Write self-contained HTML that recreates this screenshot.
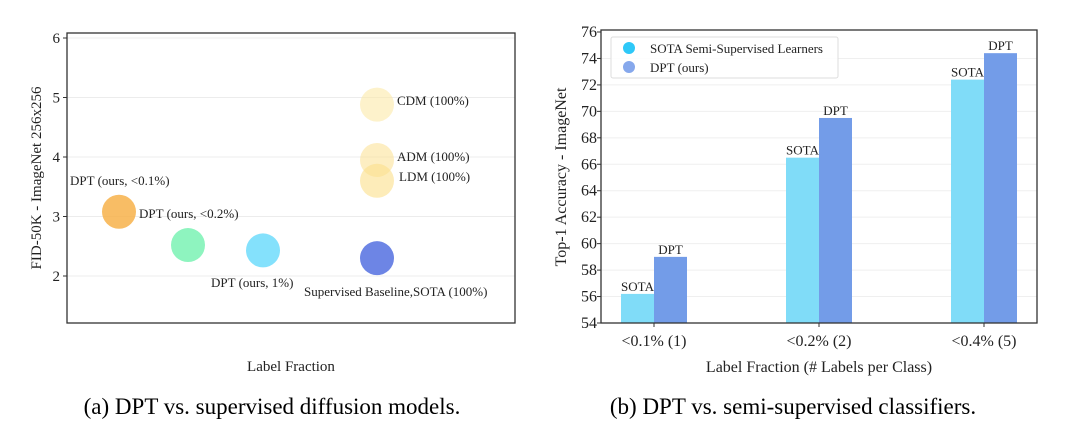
<!DOCTYPE html>
<html><head><meta charset="utf-8"><style>
html,body{margin:0;padding:0;background:#fff;}
svg{display:block;font-family:"Liberation Serif",serif;}
</style></head><body>
<svg id="fig" width="1080" height="435" viewBox="0 0 1080 435" xmlns="http://www.w3.org/2000/svg">
<g id="left"></g>
<g id="right"></g>
<text x="272" y="414" font-size="23" text-anchor="middle">(a) DPT vs. supervised diffusion models.</text>
<text x="793" y="414" font-size="23" text-anchor="middle">(b) DPT vs. semi-supervised classifiers.</text>
</svg>
<script>
// ---- Left chart data ----
const scatterNames = ["DPT (ours, <0.1%)","DPT (ours, <0.2%)","DPT (ours, 1%)","Supervised Baseline,SOTA (100%)","CDM (100%)","ADM (100%)","LDM (100%)"];
const scatterX = [1, 1.92, 2.92, 4.44, 4.44, 4.44, 4.44];
const scatterY = [3.08, 2.52, 2.43, 2.30, 4.88, 3.95, 3.60];
const scatterColors = ["#f7b24a","#7af2b4","#6fdcfb","#5470e0","#fbe9a8","#fbe39a","#fbe08a"];
const scatterTicks = [2,3,4,5,6];
// ---- Right chart data ----
const barCategories = ["<0.1% (1)","<0.2% (2)","<0.4% (5)"];
const sotaValues = [56.2, 66.5, 72.4];
const dptValues = [59.0, 69.5, 74.4];
const barTicks = [54,56,58,60,62,64,66,68,70,72,74,76];

const NS="http://www.w3.org/2000/svg";
function mk(parent,tag,attrs,text){const e=document.createElementNS(NS,tag);for(const k in attrs)e.setAttribute(k,attrs[k]);if(text!==undefined)e.textContent=text;parent.appendChild(e);return e;}

// Left
(function(){
const g=document.getElementById('left');
const L=67,R=515,T=33,B=323;
const ys=v=>276-(v-2)*59.5;
const xs=v=>119+(v-1)*75;
scatterTicks.forEach(t=>{
  const gl=mk(g,'line',{x1:L,x2:R,y1:ys(t),y2:ys(t),stroke:'#ececec','stroke-width':1});
  
  
  mk(g,'line',{x1:L-4,x2:L,y1:ys(t),y2:ys(t),stroke:'#333','stroke-width':1});
  const tl=mk(g,'text',{x:L-7,y:ys(t)+5,'font-size':15,'text-anchor':'end',fill:'#222'},String(t));
  
  
});
const fr=mk(g,'rect',{x:L,y:T,width:R-L,height:B-T,fill:'none',stroke:'#333','stroke-width':1.3});


const labelPos=[[70,185,'start'],[139,218,'start'],[211,287,'start'],[304,296,'start'],[397,105,'start'],[397,161,'start'],[399,181,'start']];
scatterX.forEach((xv,i)=>{
  const c=mk(g,'circle',{cx:xs(xv),cy:ys(scatterY[i]),r:17,fill:scatterColors[i],'fill-opacity':i>=4?0.6:0.85});
  
  
  const p=labelPos[i];
  const t=mk(g,'text',{x:p[0],y:p[1],'font-size':13,'text-anchor':p[2],fill:'#222'},scatterNames[i]);
  
  
});
const xl=mk(g,'text',{x:291,y:371,'font-size':15,'text-anchor':'middle',fill:'#222'},'Label Fraction');


const yl=mk(g,'text',{x:0,y:0,'font-size':15,'text-anchor':'middle',fill:'#222',transform:'translate(41,178) rotate(-90)'},'FID-50K - ImageNet 256x256');


})();

// Right
(function(){
const g=document.getElementById('right');
const L=601,R=1037,T=30,B=323;
const ys=v=>B-(v-54)*(B-32)/22;
const centers=[654,819,984];
const bw=33;
barTicks.forEach(t=>{
  if(t>54&&t<76){const gl=mk(g,'line',{x1:L,x2:R,y1:ys(t),y2:ys(t),stroke:'#efefef','stroke-width':1});
  
  }
  mk(g,'line',{x1:L-4,x2:L,y1:ys(t),y2:ys(t),stroke:'#333','stroke-width':1});
  const tl=mk(g,'text',{x:L-4,y:ys(t)+5,'font-size':16,'text-anchor':'end',fill:'#222'},String(t));
  
  
});
barCategories.forEach((c,i)=>{
  const cx=centers[i];
  const b1=mk(g,'rect',{x:cx-bw,y:ys(sotaValues[i]),width:bw,height:B-ys(sotaValues[i]),fill:'#80dcf8'});
  
  
  const b2=mk(g,'rect',{x:cx,y:ys(dptValues[i]),width:bw,height:B-ys(dptValues[i]),fill:'#739ce8'});
  
  
  const l1=mk(g,'text',{x:cx-bw/2,y:ys(sotaValues[i])-3,'font-size':13,'text-anchor':'middle',fill:'#222'},'SOTA');
  
  
  const l2=mk(g,'text',{x:cx+bw/2,y:ys(dptValues[i])-3,'font-size':13,'text-anchor':'middle',fill:'#222'},'DPT');
  
  
  mk(g,'line',{x1:cx,x2:cx,y1:B,y2:B+4,stroke:'#333','stroke-width':1});
  const xt=mk(g,'text',{x:cx,y:346,'font-size':16,'text-anchor':'middle',fill:'#222'},c);
  
  
});
const fr=mk(g,'rect',{x:L,y:T,width:R-L,height:B-T,fill:'none',stroke:'#333','stroke-width':1.3});


const lg=mk(g,'g',{});


mk(lg,'rect',{x:611,y:37,width:227,height:41,rx:2,fill:'#fff','fill-opacity':0.85,stroke:'#ddd'});
const m1=mk(lg,'circle',{cx:629,cy:48,r:6,fill:'#2ec8f8'});


const t1=mk(lg,'text',{x:650,y:53,'font-size':13,fill:'#222'},'SOTA Semi-Supervised Learners');


const m2=mk(lg,'circle',{cx:629,cy:67,r:6,fill:'#86a8ec'});


const t2=mk(lg,'text',{x:650,y:72,'font-size':13,fill:'#222'},'DPT (ours)');


const xl=mk(g,'text',{x:819,y:372,'font-size':16,'text-anchor':'middle',fill:'#222'},'Label Fraction (# Labels per Class)');


const yl=mk(g,'text',{x:0,y:0,'font-size':16,'text-anchor':'middle',fill:'#222',transform:'translate(566,177) rotate(-90)'},'Top-1 Accuracy - ImageNet');


})();
</script>
</body></html>
